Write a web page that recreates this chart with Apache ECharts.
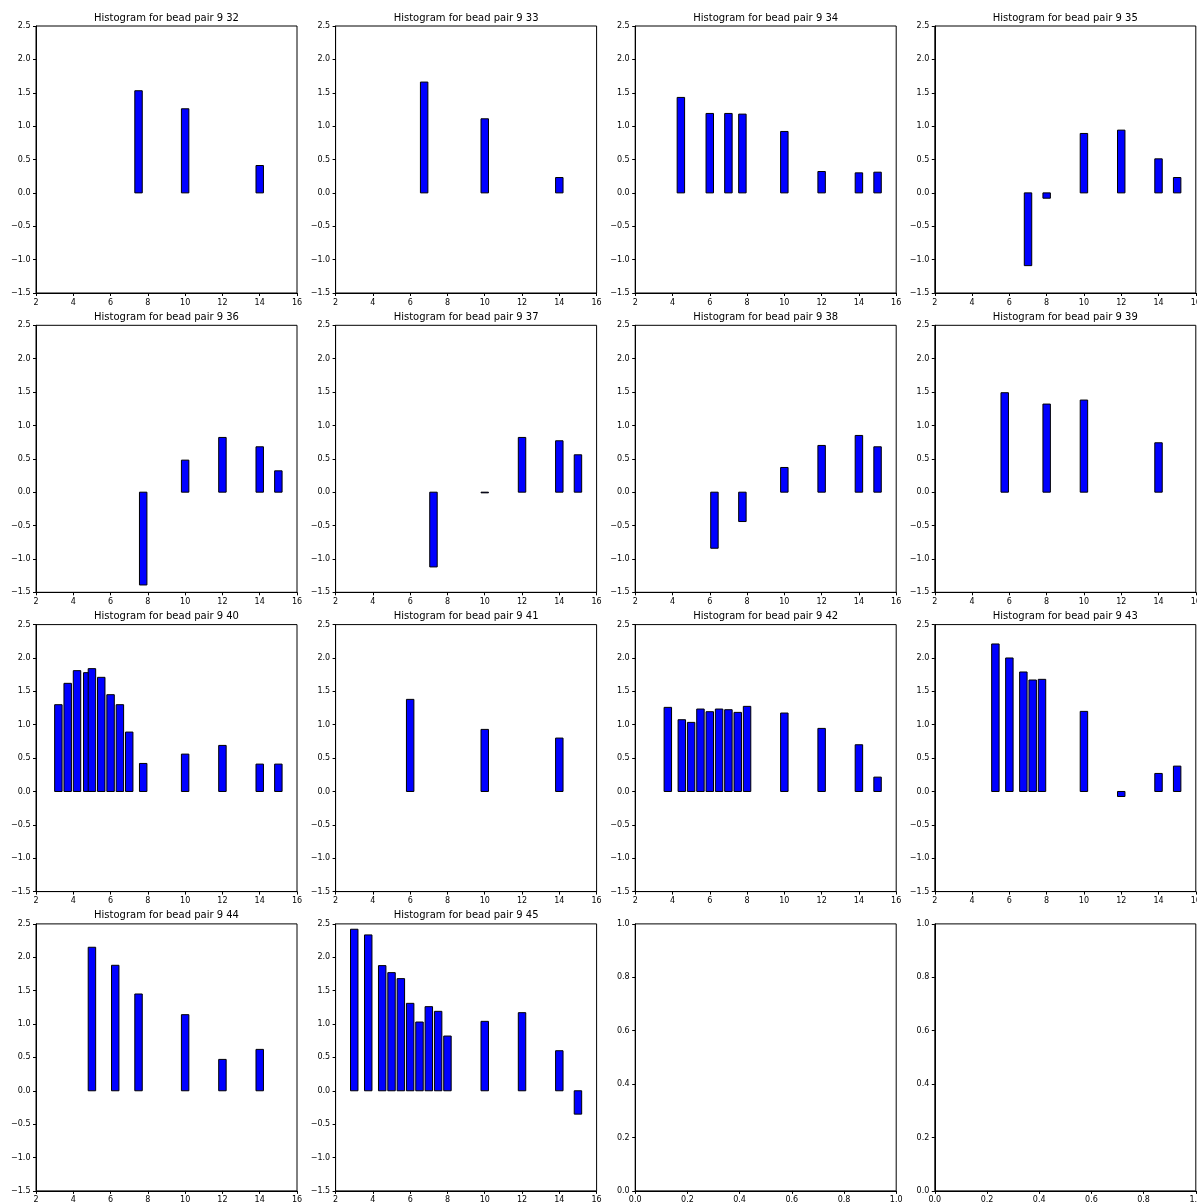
<!DOCTYPE html>
<html>
<head>
<meta charset="utf-8">
<title>Histograms for bead pairs</title>
<script src="https://cdn.jsdelivr.net/npm/echarts@6/dist/echarts.min.js"></script>
<style>
  html, body { margin: 0; padding: 0; background: #fff; overflow: hidden; }
  #chart { width: 1197px; height: 1204px; }
</style>
</head>
<body>
<div id="chart"></div>
<script>
// Bead pair labels (first bead is 9 for every panel)
const pairIds = [32, 33, 34, 35, 36, 37, 38, 39, 40, 41, 42, 43, 44, 45];

// Bin positions (distance) and values for each bead pair
const dist32 = [7.5, 10, 14];
const val32  = [1.53, 1.26, 0.41];

const dist33 = [6.75, 10, 14];
const val33  = [1.66, 1.11, 0.23];

const dist34 = [4.45, 6, 7, 7.75, 10, 12, 14, 15];
const val34  = [1.43, 1.19, 1.19, 1.18, 0.92, 0.32, 0.30, 0.31];

const dist35 = [7, 8, 10, 12, 14, 15];
const val35  = [-1.09, -0.08, 0.89, 0.94, 0.51, 0.23];

const dist36 = [7.75, 10, 12, 14, 15];
const val36  = [-1.39, 0.48, 0.82, 0.68, 0.32];

const dist37 = [7.25, 10, 12, 14, 15];
const val37  = [-1.12, -0.01, 0.82, 0.77, 0.56];

const dist38 = [6.25, 7.75, 10, 12, 14, 15];
const val38  = [-0.84, -0.44, 0.37, 0.70, 0.85, 0.68];

const dist39 = [5.75, 8, 10, 14];
const val39  = [1.49, 1.32, 1.38, 0.74];

const dist40 = [3.2, 3.7, 4.2, 4.75, 5, 5.5, 6, 6.5, 7, 7.75, 10, 12, 14, 15];
const val40  = [1.30, 1.62, 1.81, 1.78, 1.84, 1.71, 1.45, 1.30, 0.89, 0.42, 0.56, 0.69, 0.41, 0.41];

const dist41 = [6, 10, 14];
const val41  = [1.38, 0.93, 0.80];

const dist42 = [3.75, 4.5, 5, 5.5, 6, 6.5, 7, 7.5, 8, 10, 12, 14, 15];
const val42  = [1.26, 1.075, 1.035, 1.235, 1.195, 1.235, 1.225, 1.185, 1.275, 1.175, 0.945, 0.70, 0.215];

const dist43 = [5.25, 6, 6.75, 7.25, 7.75, 10, 12, 14, 15];
const val43  = [2.21, 2.0, 1.79, 1.67, 1.68, 1.20, -0.075, 0.27, 0.38];

const dist44 = [5, 6.25, 7.5, 10, 12, 14];
const val44  = [2.15, 1.88, 1.45, 1.14, 0.47, 0.62];

const dist45 = [3, 3.75, 4.5, 5, 5.5, 6, 6.5, 7, 7.5, 8, 10, 12, 14, 15];
const val45  = [2.42, 2.335, 1.875, 1.77, 1.68, 1.31, 1.03, 1.26, 1.19, 0.82, 1.04, 1.17, 0.60, -0.35];

const distances = [dist32, dist33, dist34, dist35, dist36, dist37, dist38, dist39, dist40, dist41, dist42, dist43, dist44, dist45];
const values    = [val32, val33, val34, val35, val36, val37, val38, val39, val40, val41, val42, val43, val44, val45];

// Axis ranges
const xRange = { min: 2, max: 16, interval: 2 };
const yRange = { min: -1.5, max: 2.5, interval: 0.5 };
const emptyRange = { min: 0, max: 1, interval: 0.2 };

const BAR_WIDTH = 0.4;   // bar width in x data units
const FONT = '"DejaVu Sans", sans-serif';

// Subplot geometry
const GRID_W = 261, GRID_H = 267;
const colLeft = c => 36 + c * 299.6;
const rowTop = r => 26 + r * 299.3;

const fmtSigned = v => (v < 0 ? '\u2212' : '') + Math.abs(v).toFixed(1);
const fmtInt = v => String(Math.round(v));

function axisCommon(range, formatter) {
  return {
    type: 'value',
    min: range.min,
    max: range.max,
    interval: range.interval,
    splitLine: { show: false },
    axisLine: { show: true, onZero: false, lineStyle: { color: '#000', width: 1 } },
    axisTick: { show: true, inside: false, length: 3, lineStyle: { color: '#000', width: 1 } },
    axisLabel: {
      show: true, margin: 5.5, color: '#000', fontSize: 8, fontFamily: FONT,
      showMinLabel: true, showMaxLabel: true, hideOverlap: false,
      formatter: formatter
    }
  };
}

function renderBar(params, api) {
  const x = api.value(0);
  const v = api.value(1);
  const p0 = api.coord([x - BAR_WIDTH / 2, 0]);
  const p1 = api.coord([x + BAR_WIDTH / 2, v]);
  return {
    type: 'rect',
    shape: {
      x: p0[0],
      y: Math.min(p0[1], p1[1]),
      width: p1[0] - p0[0],
      height: Math.abs(p1[1] - p0[1])
    },
    style: { fill: '#0000ff', stroke: '#000', lineWidth: 1 }
  };
}

const grids = [], xAxes = [], yAxes = [], titles = [], series = [];

for (let i = 0; i < 16; i++) {
  const r = Math.floor(i / 4), c = i % 4;
  const left = colLeft(c), top = rowTop(r);
  grids.push({
    left: left, top: top, width: GRID_W, height: GRID_H,
    show: true, borderColor: '#000', borderWidth: 1, backgroundColor: 'transparent',
    containLabel: false,
    outerBoundsMode: 'none'
  });
  if (i < pairIds.length) {
    xAxes.push(Object.assign(axisCommon(xRange, fmtInt), { gridIndex: i }));
    yAxes.push(Object.assign(axisCommon(yRange, fmtSigned), { gridIndex: i }));
    titles.push({
      text: 'Histogram for bead pair 9 ' + pairIds[i],
      left: left + GRID_W / 2,
      top: top - 13,
      textAlign: 'center',
      padding: 0,
      textStyle: { fontSize: 10, fontWeight: 'normal', fontFamily: FONT, color: '#000' }
    });
    series.push({
      type: 'custom',
      xAxisIndex: i,
      yAxisIndex: i,
      renderItem: renderBar,
      encode: { x: 0, y: 1 },
      data: distances[i].map((d, k) => [d, values[i][k]]),
      animation: false
    });
  } else {
    const f = v => v.toFixed(1);
    xAxes.push(Object.assign(axisCommon(emptyRange, f), { gridIndex: i }));
    yAxes.push(Object.assign(axisCommon(emptyRange, f), { gridIndex: i }));
  }
}

const chart = echarts.init(document.getElementById('chart'), null, { renderer: 'canvas' });
chart.setOption({
  backgroundColor: '#fff',
  animation: false,
  title: titles,
  grid: grids,
  xAxis: xAxes,
  yAxis: yAxes,
  series: series
});
</script>
</body>
</html>
